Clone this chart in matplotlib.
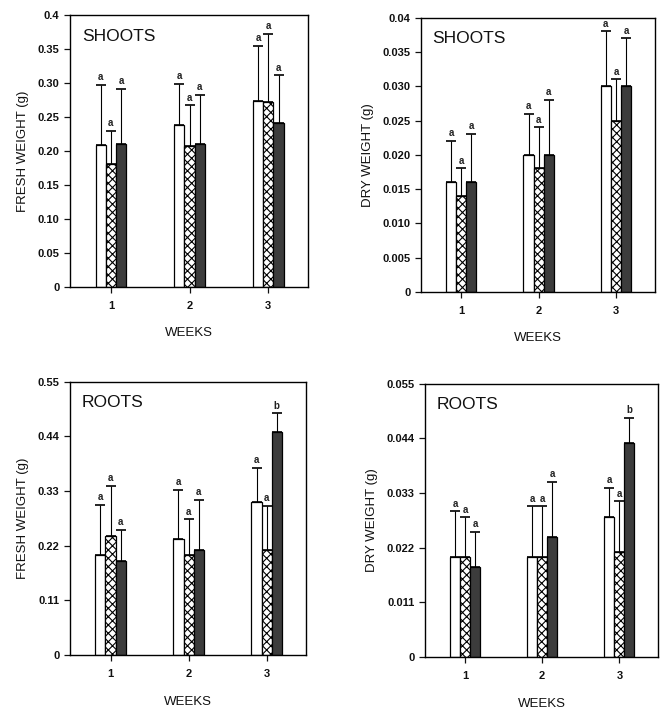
import numpy as np
import matplotlib
matplotlib.use('Agg')
import matplotlib.pyplot as plt

plt.rcParams['font.family'] = ['Liberation Sans', 'DejaVu Sans']
plt.rcParams['hatch.linewidth'] = 0.8

weeks = [1, 2, 3]

# fresh weight, shoots
fs_mean = {'white': [0.208, 0.238, 0.274], 'hatch': [0.181, 0.207, 0.272], 'dark': [0.210, 0.210, 0.241]}
fs_err = {'white': [0.089, 0.061, 0.080], 'hatch': [0.048, 0.060, 0.100], 'dark': [0.081, 0.072, 0.070]}
fs_lab = {'white': ['a', 'a', 'a'], 'hatch': ['a', 'a', 'a'], 'dark': ['a', 'a', 'a']}

# dry weight, shoots
ds_mean = {'white': [0.016, 0.020, 0.030], 'hatch': [0.014, 0.018, 0.025], 'dark': [0.016, 0.020, 0.030]}
ds_err = {'white': [0.006, 0.006, 0.008], 'hatch': [0.004, 0.006, 0.006], 'dark': [0.007, 0.008, 0.007]}
ds_lab = {'white': ['a', 'a', 'a'], 'hatch': ['a', 'a', 'a'], 'dark': ['a', 'a', 'a']}

# fresh weight, roots
fr_mean = {'white': [0.201, 0.233, 0.307], 'hatch': [0.240, 0.201, 0.211], 'dark': [0.190, 0.211, 0.448]}
fr_err = {'white': [0.101, 0.099, 0.069], 'hatch': [0.100, 0.072, 0.089], 'dark': [0.062, 0.101, 0.038]}
fr_lab = {'white': ['a', 'a', 'a'], 'hatch': ['a', 'a', 'a'], 'dark': ['a', 'a', 'b']}

# dry weight, roots
dr_mean = {'white': [0.0202, 0.0202, 0.0281], 'hatch': [0.0202, 0.0202, 0.0212], 'dark': [0.0182, 0.0242, 0.0431]}
dr_err = {'white': [0.0091, 0.0101, 0.0059], 'hatch': [0.0079, 0.0101, 0.0101], 'dark': [0.0070, 0.0110, 0.0050]}
dr_lab = {'white': ['a', 'a', 'a'], 'hatch': ['a', 'a', 'a'], 'dark': ['a', 'a', 'b']}

styles = {'white': dict(color='white', hatch=None),
          'hatch': dict(color='white', hatch='xxxx'),
          'dark': dict(color='#3c3c3c', hatch=None)}
offsets = {'white': -1, 'hatch': 0, 'dark': 1}
bw = 0.13


def PlotPanel(ax, means, errs, labs, ymax, yticks, yticklabels, ylabel, title):
    x = np.array(weeks, dtype=float)
    for key in ['white', 'hatch', 'dark']:
        xp = x + offsets[key] * bw
        ax.bar(xp, means[key], width=bw, color=styles[key]['color'], hatch=styles[key]['hatch'],
               edgecolor='k', lw=0.9, zorder=2)
        ax.errorbar(xp, means[key], yerr=[np.zeros(3), errs[key]], fmt='none', ecolor='k',
                    elinewidth=0.8, capsize=3.5, capthick=1.2, zorder=3)
        for xi, m, e, l in zip(xp, means[key], errs[key], labs[key]):
            ax.annotate(l, (xi, m + e), xytext=(0, 2), textcoords='offset points',
                        ha='center', va='bottom', size=7, weight='bold', color='#222222')
    ax.set_xlim(0.48, 3.5)
    ax.set_ylim(0, ymax)
    ax.set_xticks(weeks)
    ax.set_xticklabels([str(w) for w in weeks], size=8, weight='bold')
    ax.set_yticks(yticks)
    ax.set_yticklabels(yticklabels, size=8, weight='bold')
    ax.tick_params(direction='out', length=4, width=0.9, top=False, right=False, colors='#111111')
    ax.tick_params(axis='x', pad=6)
    for s in ax.spines.values():
        s.set_linewidth(1.0)
    ax.set_xlabel('WEEKS', size=9.5, labelpad=12, color='#111111')
    ax.set_ylabel(ylabel, size=9.5, labelpad=6, color='#111111')
    ax.text(0.05, 0.95, title, transform=ax.transAxes, ha='left', va='top', size=12.5, color='#111111')


if __name__ == '__main__':
    fig = plt.figure(figsize=(6.66, 7.10), dpi=100, facecolor='w')
    ax1 = fig.add_axes([0.105, 0.596, 0.357, 0.383])
    ax2 = fig.add_axes([0.632, 0.589, 0.351, 0.386])
    ax3 = fig.add_axes([0.105, 0.0775, 0.354, 0.385])
    ax4 = fig.add_axes([0.638, 0.0746, 0.350, 0.385])

    PlotPanel(ax1, fs_mean, fs_err, fs_lab, 0.4,
              [0, 0.05, 0.10, 0.15, 0.20, 0.25, 0.30, 0.35, 0.4],
              ['0', '0.05', '0.10', '0.15', '0.20', '0.25', '0.30', '0.35', '0.4'],
              'FRESH WEIGHT (g)', 'SHOOTS')
    PlotPanel(ax2, ds_mean, ds_err, ds_lab, 0.04,
              [0, 0.005, 0.010, 0.015, 0.020, 0.025, 0.030, 0.035, 0.04],
              ['0', '0.005', '0.010', '0.015', '0.020', '0.025', '0.030', '0.035', '0.04'],
              'DRY WEIGHT (g)', 'SHOOTS')
    PlotPanel(ax3, fr_mean, fr_err, fr_lab, 0.55,
              [0, 0.11, 0.22, 0.33, 0.44, 0.55],
              ['0', '0.11', '0.22', '0.33', '0.44', '0.55'],
              'FRESH WEIGHT (g)', 'ROOTS')
    PlotPanel(ax4, dr_mean, dr_err, dr_lab, 0.055,
              [0, 0.011, 0.022, 0.033, 0.044, 0.055],
              ['0', '0.011', '0.022', '0.033', '0.044', '0.055'],
              'DRY WEIGHT (g)', 'ROOTS')

    plt.savefig('out.png', dpi=100, facecolor='w')
